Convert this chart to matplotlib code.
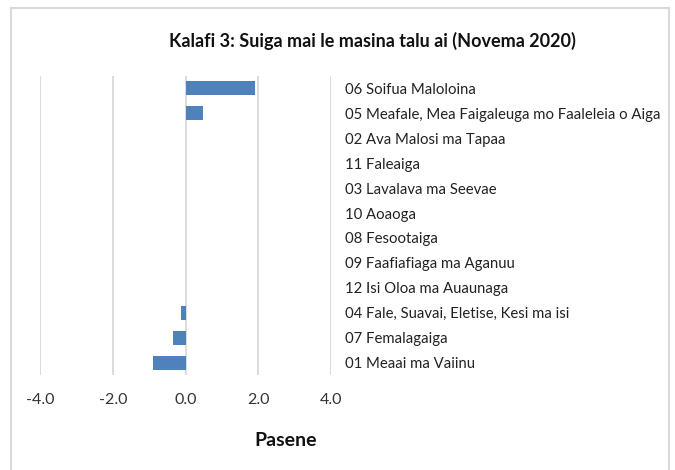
import matplotlib.pyplot as plt
from matplotlib.patches import Rectangle

categories = ["06 Soifua Maloloina",
              "05 Meafale, Mea Faigaleuga mo Faaleleia o Aiga",
              "02 Ava Malosi ma Tapaa",
              "11 Faleaiga",
              "03 Lavalava ma Seevae",
              "10 Aoaoga",
              "08 Fesootaiga",
              "09 Faafiafiaga ma Aganuu",
              "12 Isi Oloa ma Auaunaga",
              "04 Fale, Suavai, Eletise, Kesi ma isi",
              "07 Femalagaiga",
              "01 Meaai ma Vaiinu"]
pasene = [1.9, 0.48, 0, 0, 0, 0, 0, 0, 0, -0.13, -0.35, -0.88]
xticks = [-4.0, -2.0, 0.0, 2.0, 4.0]

title = "Kalafi 3: Suiga mai le masina talu ai (Novema 2020)"
xlabel = "Pasene"

plt.rcParams['font.family'] = ['Lato', 'DejaVu Sans']

W, H = 675, 470
fig = plt.figure(figsize=(W / 100, H / 100), dpi=100)

# outer frame of the chart
fig.patches.append(Rectangle((11 / W, -0.1), (669 - 11) / W, 1.1 - 8 / H,
                             transform=fig.transFigure, fill=False,
                             edgecolor='#d9d9d9', lw=1.5))

ax = fig.add_axes([40 / W, 1 - 375 / H, (331 - 40) / W, (375 - 76) / H])

ypos = list(range(len(categories)))
ax.barh(ypos, pasene, height=0.56, color='#4f81bd', zorder=3)

ax.set_xlim(-4, 4)
ax.set_ylim(len(categories) - 0.5, -0.5)
ax.set_xticks(xticks)
ax.set_xticklabels(["%.1f" % t for t in xticks], fontsize=11.5, color='#333333')
ax.grid(axis='x', color='#d9d9d9', lw=1.3, zorder=0)

ax.yaxis.tick_right()
ax.set_yticks(ypos)
ax.set_yticklabels(categories, fontsize=10.7, color='#222222')
ax.tick_params(axis='y', length=0, pad=10)
ax.tick_params(axis='x', length=0, pad=13)
for s in ax.spines.values():
    s.set_visible(False)

fig.text(372 / W, 1 - 41 / H, title, ha='center', va='center',
         fontsize=13, fontweight='bold', color='#111111')
fig.text(286 / W, 1 - 440 / H, xlabel, ha='center', va='center',
         fontsize=14, fontweight='bold', color='#111111')

fig.savefig("out.png", dpi=100)
